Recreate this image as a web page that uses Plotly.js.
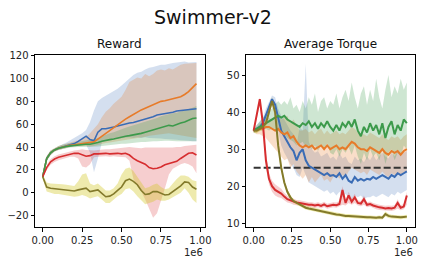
<!DOCTYPE html>
<html><head><meta charset="utf-8">
<script src="https://cdn.plot.ly/plotly-3.0.1.min.js"></script>
<style>html,body{margin:0;padding:0;background:#fff;}#plot{width:425px;height:264px;}</style>
</head><body><div id="plot"></div>
<script>
// ---------- Reward panel (x in units of 1e6 steps) ----------
const X1 = [0,0.025,0.05,0.075,0.1,0.125,0.15,0.175,0.2,0.225,0.25,0.275,0.3,0.325,0.35,0.375,0.4,0.425,0.45,0.475,0.5,0.525,0.55,0.575,0.6,0.625,0.65,0.675,0.7,0.725,0.75,0.775,0.8,0.825,0.85,0.875,0.9,0.925,0.95,0.975];
const B1 = [14,30,35,37.5,39,40,41,42,43,45,47,49.5,46.5,45.5,53,56,56,56.5,57.5,58.5,59.5,60,61,61.5,62.5,63,64,65,66.5,68,68.5,69,70,70.5,71.5,72,72.5,73,73,73.5];
const B1hi = [15,32,37,39,41,42.5,44,46,48,50,52,55,62,72,80,83,85,87,88.5,91,94,97,100,103,105,106,108,109.5,110,111,112,112,113,113.5,114,114.5,115,114,114.5,114.5];
const B1lo = [13,28,33,36,37.5,38.5,39,40,41,42,42,42,35,18,30,44,46,46.5,47,47.5,48,48,48.5,48,48.5,48,48.5,48,48,47.5,47.5,47,47,46.5,46.5,46,46,45.5,45,45];
const O1 = [14,30,35,37.5,39,40,41,41.5,42,42.5,43,43.5,44,44.5,47,49.5,52,54.5,57.5,60,62.5,64.5,66.5,68.5,71,72.5,74,75.5,77,78.5,80,80.5,81.5,82.5,83.5,84,86,88.5,92,95.5];
const O1hi = [15,32,37,39,41,42,43,44,45,46,47,49,52,56,60,66,71,74,78,81,84,90,97,99,101,100,104,102,104,107,108,107,109,108,110,112,113,113,113,113.5];
const O1lo = [13,28,33,36,37.5,38.5,39.5,40,40.5,41,41,41,40.5,41,42,43,43.5,44,44.5,45,45.5,46,46.5,47,48,48.5,49,50,50.5,51,51.5,52,52,51.5,51,50.5,50,49.5,49,48];
const G1 = [14,30,35,37.5,39,40,40.5,41,41.5,42,42,42.5,42.5,43,44,45,46,46.5,47,48,49,49.5,50,50.5,51.5,52,53,54,55,56,57,58,59,58.5,60,61,62,63.5,65,65.5];
const G1hi = [15,32,37,39,41,42,43,43.5,44,44.5,45,45.5,46,47,48,49.5,51,52,53,54.5,56,57,58,59,60,61,62,63,64.5,65.5,67,68,69,69.5,70,71,72,73,74.5,76];
const G1lo = [13,28,33,36,37.5,38.5,39,39.5,40,40,40,40,40,40,40.5,41,41.5,42,42,42.5,43,43,43.5,44,44,44.5,44.5,45,45,45,45.5,45.5,45.5,45,45,45,45,45,45,45];
const R1 = [14,22,27,29.5,31,32,33,34,34.5,34.5,33,32,32.5,34,34,34.5,34.5,34,34.5,34.5,34,34.5,33,30,28,26.5,25,22,21,21.5,22.5,24.5,25.5,26,27.5,30,32.5,34.5,35,33];
const R1hi = [15,24,29.5,32,33.5,34.5,35.5,36.5,37,37.5,38,37.5,37,37,37.5,38,38,38,38.5,39,39.5,40,40,39.5,39,39,39.5,39.5,39,39,39.5,39.5,39,39.5,40,40,41,41.5,42,42];
const R1lo = [13,20,24.5,27,28.5,29.5,30.5,31.5,31.5,30,23,22,25,31,31.5,32,32,31.5,32,31.5,31,31,28,12,6,1,-6,-14,-22,-18,-8,4,16,21,23,25,26,25,23,17];
const Y1 = [14,5,4,3.5,3.5,3,2.5,2,1.5,2.5,3.5,4,1,1.5,2.5,-0.5,-3.5,-3,-1,2,5,10.5,12,10,7,2,-1.5,-1,1,1,-0.5,-2,-1.5,1,3,6,9.5,9,5,3];
const Y1hi = [16,9,8,8,8,7.5,7,6.5,6,10,16,17,8,6.5,8,5,2,2,4,8,16,21,22,19,14,8,4,5,7,8,5,3,4,8,12,15,15,14,11,10];
const Y1lo = [12,1,0,-1,-1,-1.5,-2,-3,-3.5,-3,-2,-3,-5,-4,-3,-6,-9,-9,-6,-3,-1,3,4,1,-3,-7,-10,-9,-8,-6,-7,-7,-6,-4,-2,0,4,0,-6,-9];

// ---------- Average Torque panel ----------
const X2 = [0,0.02,0.04,0.06,0.08,0.1,0.12,0.14,0.16,0.18,0.2,0.22,0.24,0.26,0.28,0.3,0.32,0.34,0.36,0.38,0.4,0.42,0.44,0.46,0.48,0.5,0.52,0.54,0.56,0.58,0.6,0.62,0.64,0.66,0.68,0.7,0.72,0.74,0.76,0.78,0.8,0.82,0.84,0.86,0.88,0.9,0.92,0.94,0.96,0.98,1.0];
const B2 = [35,35.5,36,37,39,41.5,43.5,42,38,35,33.5,32,30.5,29.5,27,29,30,27,25.5,25,24.5,24,23.5,23,23.5,22.8,23,22.5,23.5,22,23,21.5,21,22.5,21.5,22,21.5,22,21.8,22.5,22,22.5,23,22.5,22,23,22.5,23.5,23,23.5,24];
const B2hi = [35.5,36.5,37.5,38.5,41,43,44.5,44,41,39,38,36.5,35,34,31,36,35,53,32,30,29,29.5,28,28.5,29,27.5,28,27,29,27.5,28,26.5,26,28,27,27.5,26.5,28,27,28.5,27,28,29,28,27.5,29,28,29.5,28.5,29,29.5];
const B2lo = [34.5,34.5,35,35.5,37,40,42,40,35,31,29,27.5,26,25,23,22.5,25,23,21,20.5,20,19.5,19,18.5,19,18,18.5,17.5,18.5,17,18,17,16.5,17.5,17,17.5,16.5,17,17,17.5,17,17.5,18,17.5,17,18,17.5,18.5,18,18.5,19];
const O2 = [35,35,35.5,35.5,36,36,35.5,35,35.5,34.5,34,34.5,33,33.5,32,31,30.5,31,30.5,31,30,30.5,31,30,31,30,30.5,31,30,30.5,30,31,32,31.5,30.5,30,30,29.5,30.5,30,29.5,29,30,29,28.5,29.5,29,29.5,28.5,29.5,30];
const O2hi = [35.5,36,37,37.5,38,38.5,38,38,39,38,38.5,39,37,38,36.5,35,35,35.5,34.5,35,34,35,35.5,34,35,34,34.5,35,34,34.5,34,35,36,35.5,34.5,34,34,33.5,34.5,34,33.5,33,34,33,32.5,33.5,33,33.5,32.5,33.5,34];
const O2lo = [34.5,34,34,33.5,33,32,31,30,29,28,27,27.5,25,26,24,23,22,23,21,22.5,21,22,23,21.5,22,21,22.5,23,22,23,22.5,24,25,24.5,24,23.5,24,23,24.5,24,23.5,23,24,23,22.5,23.5,23,23.5,22.5,23.5,24];
const G2 = [35,35.5,36,36.5,37,37.5,38,38.5,39,38.5,39,38,37.5,37,36.5,36,37,36.5,37.5,36,37,35.5,37,36,37.5,36,35,36.5,35,37,36,37.5,36,38,35,33.5,36,34.5,37,35,36.5,34,37,33,36,37.5,34,36.5,35,38,37];
const G2hi = [35.5,36.5,37.5,38.5,39.5,40,41,42,43,42,43,42,44,41,42,40,43,41,44,42,45,40,43,44,41,43,42,45,41,44,46,43,48,44,41,45,47,42,46,43,49,44,41,46,50,44,47,45,49,46,48];
const G2lo = [34.5,34.5,35,35,35.5,35,35.5,35,35,34.5,34,33,32.5,32,31,31.5,32,30.5,31,30,31,29.5,31,30,31.5,29,28.5,30,28,30,29,30.5,28.5,31,28,26,29,27,30,28,29,27,30,26,29,30,27,29,28,31,30];
const R2 = [35,39,43.5,37,27,22,20,19,18.5,18,17.2,16.5,16.2,15.8,15.6,15.5,15.3,15.2,15,15,14.8,15,14.7,15.1,14.6,14.8,15,14.9,15.2,19,15.5,17.5,15.8,17,15.5,15.3,16.5,15,15.2,14.8,14.5,14.3,14.2,14,14.1,14,14.2,15.5,14.2,14.5,17.5];
const R2hi = [35.5,40,44,38.5,29,23.5,21.5,20.5,20,19.3,18.2,17.4,17,16.6,16.3,16.2,16,15.9,15.7,15.7,15.5,15.7,15.4,15.8,15.3,15.5,15.7,15.6,16,20,16.2,18.5,16.6,18,16.2,16,17.5,15.7,15.9,15.5,15.2,15,14.9,14.7,14.8,14.7,14.9,16.5,14.9,15.2,18.5];
const R2lo = [34.5,38,42,35,25,20.5,18.5,17.5,17,16.8,16.2,15.6,15.4,15,14.9,14.8,14.6,14.5,14.3,14.3,14.1,14.3,14,14.4,13.9,14.1,14.3,14.2,14.5,15,14.8,15.5,15,15.5,14.8,14.6,15,14.3,14.5,14.1,13.8,13.6,13.5,13.3,13.4,13.3,13.5,14,13.5,13.8,15];
const Y2 = [35,35,35.5,36,37,40,43,40,31,25,21,18.5,17,16,15.5,15,14.5,14.2,14,13.8,13.6,13.4,13.2,13,12.8,12.7,12.5,12.4,12.3,12.1,12,12,11.9,11.8,11.8,11.7,11.7,11.6,11.6,11.5,11.5,11.6,11.5,12.5,12,11.8,11.7,11.8,11.6,11.7,11.8];
const Y2hi = [35.5,35.7,36.2,36.8,38,41,44,41.5,32.5,26.2,21.8,19.2,17.6,16.5,16,15.5,15,14.7,14.5,14.3,14.1,13.9,13.7,13.5,13.3,13.2,13,12.9,12.8,12.6,12.5,12.5,12.4,12.3,12.3,12.2,12.2,12.1,12.1,12,12,12.1,12,13.2,12.6,12.3,12.2,12.3,12.1,12.2,12.3];
const Y2lo = [34.5,34.3,34.8,35.2,36,39,42,38.5,29.5,23.8,20.2,17.8,16.4,15.5,15,14.5,14,13.7,13.5,13.3,13.1,12.9,12.7,12.5,12.3,12.2,12,11.9,11.8,11.6,11.5,11.5,11.4,11.3,11.3,11.2,11.2,11.1,11.1,11,11,11.1,11,11.8,11.4,11.3,11.2,11.3,11.1,11.2,11.3];
const torqueLimit = 25;
const limitX = [0, 1.0];

const TITLE = 'Swimmer-v2';
const SUB1 = 'Reward';
const SUB2 = 'Average Torque';
const XTICKS = [0, 0.25, 0.5, 0.75, 1.0];
const XTICKTEXT = ['0.00', '0.25', '0.50', '0.75', '1.00'];
const Y1TICKS = [-20, 0, 20, 40, 60, 80, 100, 120];
const Y2TICKS = [10, 20, 30, 40, 50];

const COL = {
  blue: '#3a6cb5', orange: '#e77b29', green: '#3c9a4b', red: '#d62d2f', olive: '#837a2b'
};
const FILL = {
  blue: 'rgba(58,108,181,0.22)', orange: 'rgba(231,123,41,0.25)', green: 'rgba(60,154,75,0.25)',
  red: 'rgba(214,45,47,0.23)', olive: 'rgba(210,200,40,0.38)'
};

const traces = [];
function band(x, lo, hi, fill, xa, ya) {
  traces.push({x: x, y: lo, type: 'scatter', mode: 'lines', line: {width: 0, color: fill}, xaxis: xa, yaxis: ya, showlegend: false});
  traces.push({x: x, y: hi, type: 'scatter', mode: 'lines', line: {width: 0, color: fill}, fill: 'tonexty', fillcolor: fill, xaxis: xa, yaxis: ya, showlegend: false});
}
function line(x, y, c, xa, ya, w) {
  traces.push({x: x, y: y, type: 'scatter', mode: 'lines', line: {width: w, color: c}, xaxis: xa, yaxis: ya, showlegend: false});
}
const left = [[B1, B1lo, B1hi, 'blue'], [O1, O1lo, O1hi, 'orange'], [G1, G1lo, G1hi, 'green'], [R1, R1lo, R1hi, 'red'], [Y1, Y1lo, Y1hi, 'olive']];
const right = [[B2, B2lo, B2hi, 'blue'], [O2, O2lo, O2hi, 'orange'], [G2, G2lo, G2hi, 'green'], [R2, R2lo, R2hi, 'red'], [Y2, Y2lo, Y2hi, 'olive']];
left.forEach(s => band(X1, s[1], s[2], FILL[s[3]], 'x', 'y'));
left.forEach(s => line(X1, s[0], COL[s[3]], 'x', 'y', 1.6));
right.forEach(s => band(X2, s[1], s[2], FILL[s[3]], 'x2', 'y2'));
traces.push({x: limitX, y: [torqueLimit, torqueLimit], type: 'scatter', mode: 'lines', line: {width: 2, color: '#333333', dash: '7px,3px'}, xaxis: 'x2', yaxis: 'y2', showlegend: false});
right.forEach(s => line(X2, s[0], COL[s[3]], 'x2', 'y2', 2));

const F = 'DejaVu Sans, sans-serif';
const axBase = {
  showline: true, mirror: true, linecolor: '#000', linewidth: 1, showgrid: false, zeroline: false,
  ticks: 'outside', ticklen: 3.5, tickwidth: 1, tickcolor: '#000',
  tickfont: {family: F, size: 10, color: '#222'}
};
const H = 264, W = 425;
const yd = [(H - 227) / H, (H - 55) / H];
const layout = {
  width: W, height: H, margin: {l: 0, r: 0, t: 0, b: 0},
  paper_bgcolor: '#fff', plot_bgcolor: '#fff', showlegend: false,
  font: {family: F},
  xaxis: Object.assign({}, axBase, {domain: [35 / W, 204.5 / W], range: [-0.049, 1.026], tickvals: XTICKS, ticktext: XTICKTEXT, anchor: 'y'}),
  yaxis: Object.assign({}, axBase, {domain: yd, range: [-30, 120.6], tickvals: Y1TICKS, anchor: 'x'}),
  xaxis2: Object.assign({}, axBase, {domain: [246 / W, 414.5 / W], range: [-0.05, 1.05], tickvals: XTICKS, ticktext: XTICKTEXT, anchor: 'y2'}),
  yaxis2: Object.assign({}, axBase, {domain: yd, range: [9, 55.4], tickvals: Y2TICKS, anchor: 'x2'}),
  annotations: [
    {text: TITLE, xref: 'paper', yref: 'paper', x: 0.5, y: 1 - 17 / H, xanchor: 'center', yanchor: 'middle', showarrow: false, font: {family: F, size: 19, color: '#111'}},
    {text: SUB1, xref: 'paper', yref: 'paper', x: (35 + 204.5) / 2 / W, y: 1 - 44 / H, xanchor: 'center', yanchor: 'middle', showarrow: false, font: {family: F, size: 12, color: '#111'}},
    {text: SUB2, xref: 'paper', yref: 'paper', x: (246 + 414.5) / 2 / W, y: 1 - 44 / H, xanchor: 'center', yanchor: 'middle', showarrow: false, font: {family: F, size: 12, color: '#111'}},
    {text: '1e6', xref: 'paper', yref: 'paper', x: 204.5 / W, y: 1 - 252 / H, xanchor: 'right', yanchor: 'middle', showarrow: false, font: {family: F, size: 10, color: '#222'}},
    {text: '1e6', xref: 'paper', yref: 'paper', x: 414.5 / W, y: 1 - 252 / H, xanchor: 'right', yanchor: 'middle', showarrow: false, font: {family: F, size: 10, color: '#222'}}
  ]
};
Plotly.newPlot('plot', traces, layout, {staticPlot: true, displayModeBar: false});
</script></body></html>
